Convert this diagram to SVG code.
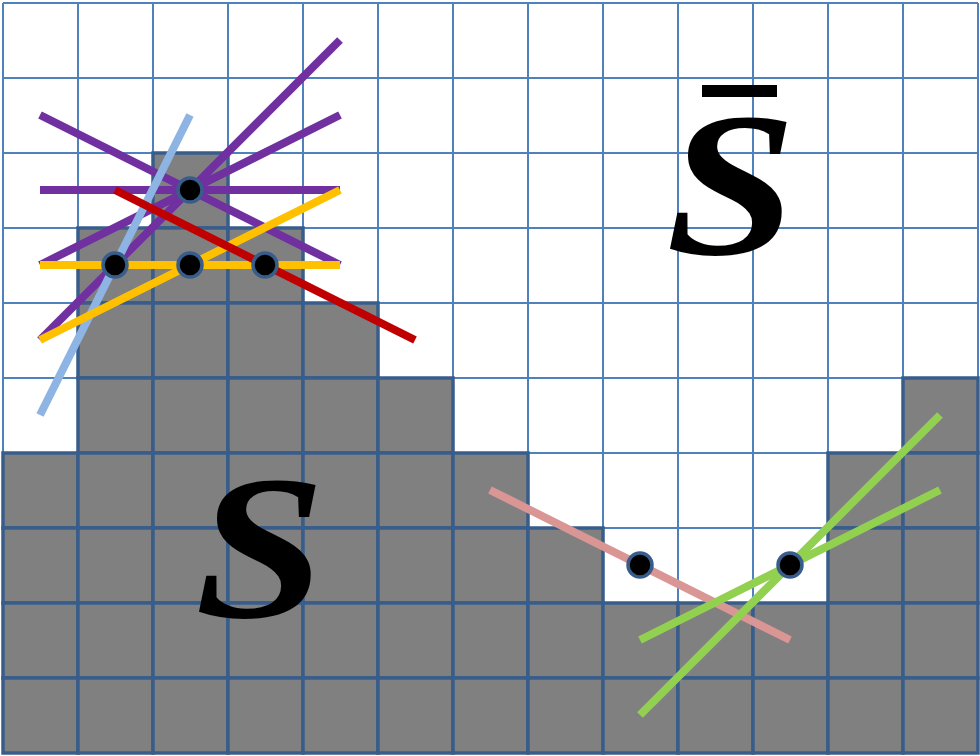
<svg xmlns="http://www.w3.org/2000/svg" width="980" height="756" viewBox="0 0 980 756">
<defs>
<style>
.g{stroke:#4f81bd;stroke-width:2;fill:none}
.c{fill:#808080;stroke:#385d8a;stroke-width:3.5}
.ln{stroke-width:8;fill:none}
.pt{fill:#000;stroke:#385d8a;stroke-width:3.5}
.lbl{font-family:"Liberation Serif","Times New Roman",serif;font-weight:bold;font-style:italic;font-size:206px;fill:#000;text-anchor:middle}
</style>
</defs>
<rect width="980" height="756" fill="#fff"/>
<g id="grid">
<path class="g" d="M3,3V753M78,3V753M153,3V753M228,3V753M303,3V753M378,3V753M453,3V753M528,3V753M603,3V753M678,3V753M753,3V753M828,3V753M903,3V753M978,3V753M3,3H978M3,78H978M3,153H978M3,228H978M3,303H978M3,378H978M3,453H978M3,528H978M3,603H978M3,678H978M3,753H978"/>
</g>
<g id="cells">
<rect class="c" x="3" y="453" width="75" height="75"/><rect class="c" x="3" y="528" width="75" height="75"/><rect class="c" x="3" y="603" width="75" height="75"/><rect class="c" x="3" y="678" width="75" height="75"/>
<rect class="c" x="78" y="228" width="75" height="75"/><rect class="c" x="78" y="303" width="75" height="75"/><rect class="c" x="78" y="378" width="75" height="75"/><rect class="c" x="78" y="453" width="75" height="75"/><rect class="c" x="78" y="528" width="75" height="75"/><rect class="c" x="78" y="603" width="75" height="75"/><rect class="c" x="78" y="678" width="75" height="75"/>
<rect class="c" x="153" y="153" width="75" height="75"/><rect class="c" x="153" y="228" width="75" height="75"/><rect class="c" x="153" y="303" width="75" height="75"/><rect class="c" x="153" y="378" width="75" height="75"/><rect class="c" x="153" y="453" width="75" height="75"/><rect class="c" x="153" y="528" width="75" height="75"/><rect class="c" x="153" y="603" width="75" height="75"/><rect class="c" x="153" y="678" width="75" height="75"/>
<rect class="c" x="228" y="228" width="75" height="75"/><rect class="c" x="228" y="303" width="75" height="75"/><rect class="c" x="228" y="378" width="75" height="75"/><rect class="c" x="228" y="453" width="75" height="75"/><rect class="c" x="228" y="528" width="75" height="75"/><rect class="c" x="228" y="603" width="75" height="75"/><rect class="c" x="228" y="678" width="75" height="75"/>
<rect class="c" x="303" y="303" width="75" height="75"/><rect class="c" x="303" y="378" width="75" height="75"/><rect class="c" x="303" y="453" width="75" height="75"/><rect class="c" x="303" y="528" width="75" height="75"/><rect class="c" x="303" y="603" width="75" height="75"/><rect class="c" x="303" y="678" width="75" height="75"/>
<rect class="c" x="378" y="378" width="75" height="75"/><rect class="c" x="378" y="453" width="75" height="75"/><rect class="c" x="378" y="528" width="75" height="75"/><rect class="c" x="378" y="603" width="75" height="75"/><rect class="c" x="378" y="678" width="75" height="75"/>
<rect class="c" x="453" y="453" width="75" height="75"/><rect class="c" x="453" y="528" width="75" height="75"/><rect class="c" x="453" y="603" width="75" height="75"/><rect class="c" x="453" y="678" width="75" height="75"/>
<rect class="c" x="528" y="528" width="75" height="75"/><rect class="c" x="528" y="603" width="75" height="75"/><rect class="c" x="528" y="678" width="75" height="75"/>
<rect class="c" x="603" y="603" width="75" height="75"/><rect class="c" x="603" y="678" width="75" height="75"/>
<rect class="c" x="678" y="603" width="75" height="75"/><rect class="c" x="678" y="678" width="75" height="75"/>
<rect class="c" x="753" y="603" width="75" height="75"/><rect class="c" x="753" y="678" width="75" height="75"/>
<rect class="c" x="828" y="453" width="75" height="75"/><rect class="c" x="828" y="528" width="75" height="75"/><rect class="c" x="828" y="603" width="75" height="75"/><rect class="c" x="828" y="678" width="75" height="75"/>
<rect class="c" x="903" y="378" width="75" height="75"/><rect class="c" x="903" y="453" width="75" height="75"/><rect class="c" x="903" y="528" width="75" height="75"/><rect class="c" x="903" y="603" width="75" height="75"/><rect class="c" x="903" y="678" width="75" height="75"/>
</g>
<g id="connectors">
<line class="ln" stroke="#7030a0" x1="40" y1="115" x2="340" y2="265"/>
<line class="ln" stroke="#7030a0" x1="40" y1="190" x2="340" y2="190"/>
<line class="ln" stroke="#7030a0" x1="40" y1="340" x2="340" y2="40"/>
<line class="ln" stroke="#7030a0" x1="40" y1="265" x2="340" y2="115"/>
<line class="ln" stroke="#8db4e2" x1="40" y1="415" x2="190" y2="115"/>
<line class="ln" stroke="#ffc000" x1="40" y1="265" x2="340" y2="265"/>
<line class="ln" stroke="#ffc000" x1="40" y1="340" x2="340" y2="190"/>
<line class="ln" stroke="#c00000" x1="115" y1="190" x2="415" y2="340"/>
<line class="ln" stroke="#d99694" x1="490" y1="490" x2="790" y2="640"/>
<line class="ln" stroke="#92d050" x1="640" y1="715" x2="940" y2="415"/>
<line class="ln" stroke="#92d050" x1="640" y1="640" x2="940" y2="490"/>
</g>
<g id="p1"><circle class="pt" cx="190" cy="190" r="12"/></g>
<g id="p2"><circle class="pt" cx="115" cy="265" r="12"/></g>
<g id="p3"><circle class="pt" cx="190" cy="265" r="12"/></g>
<g id="p4"><circle class="pt" cx="265" cy="265" r="12"/></g>
<g id="p5"><circle class="pt" cx="640" cy="565" r="12"/></g>
<g id="p6"><circle class="pt" cx="790" cy="565" r="12"/></g>
<g id="label-S"><text class="lbl" transform="translate(260,617) scale(1.14,1)" x="0" y="0">S</text></g>
<g id="label-Sbar"><rect x="702" y="85" width="75" height="12" fill="#000"/><text class="lbl" transform="translate(731,254) scale(1.14,1)" x="0" y="0">S</text></g>
</svg>
